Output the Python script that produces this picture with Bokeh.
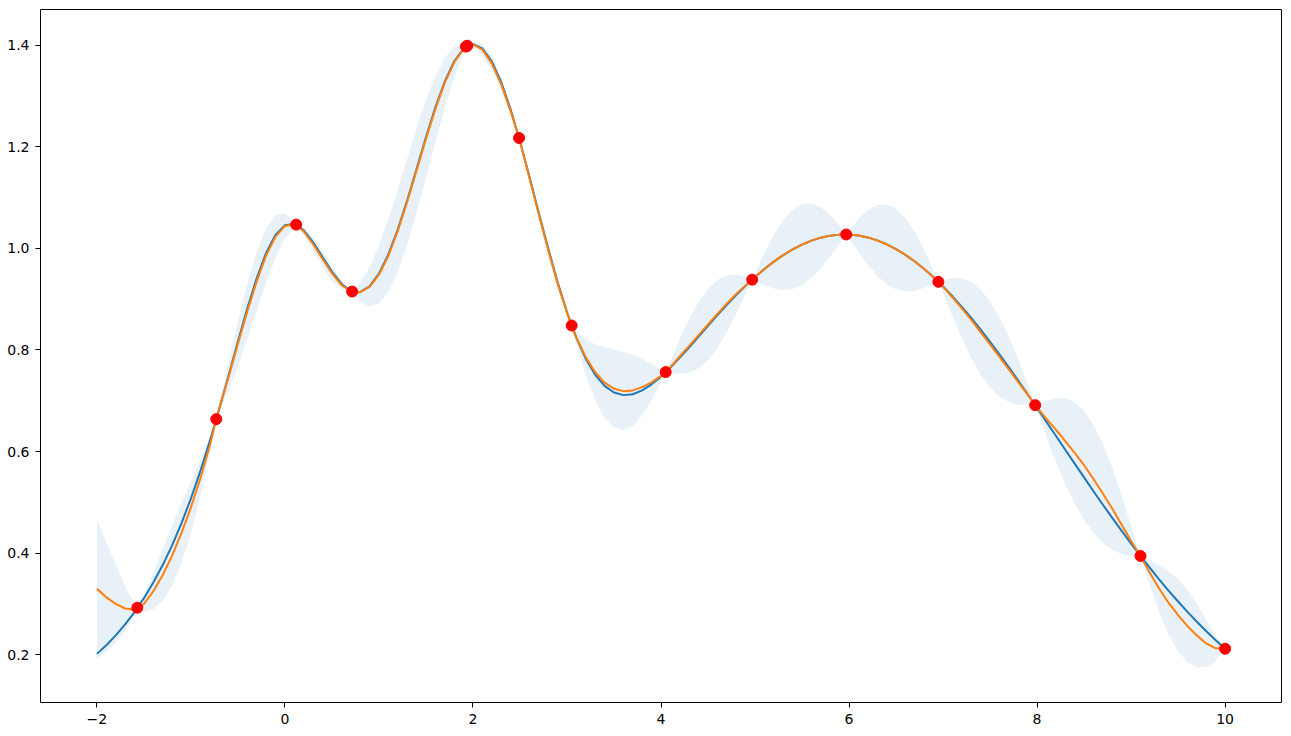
from bokeh.plotting import figure
from bokeh.models import Range1d, FixedTicker, CustomJSTickFormatter
from bokeh.embed import file_html
from bokeh.resources import INLINE

# sample positions (x) shared by the curves and the band
x_grid = [
    -2.0, -1.9, -1.8, -1.7, -1.6,
    -1.57,
    -1.5, -1.4, -1.3, -1.2, -1.1, -1.0, -0.9, -0.8,
    -0.73,
    -0.7, -0.6, -0.5, -0.4, -0.3, -0.2, -0.1, 0.0, 0.1,
    0.12,
    0.2, 0.3, 0.4, 0.5, 0.6, 0.7,
    0.715,
    0.8, 0.9, 1.0, 1.1, 1.2, 1.3, 1.4, 1.5, 1.6, 1.7, 1.8, 1.9,
    1.94,
    2.0, 2.1, 2.2, 2.3, 2.4,
    2.49,
    2.5, 2.6, 2.7, 2.8, 2.9, 3.0,
    3.05,
    3.1, 3.2, 3.3, 3.4, 3.5, 3.6, 3.7, 3.8, 3.9, 4.0,
    4.05,
    4.1, 4.2, 4.3, 4.4, 4.5, 4.6, 4.7, 4.8, 4.9,
    4.97,
    5.0, 5.1, 5.2, 5.3, 5.4, 5.5, 5.6, 5.7, 5.8, 5.9,
    5.97,
    6.0, 6.1, 6.2, 6.3, 6.4, 6.5, 6.6, 6.7, 6.8, 6.9,
    6.95,
    7.0, 7.1, 7.2, 7.3, 7.4, 7.5, 7.6, 7.7, 7.8, 7.9,
    7.98,
    8.0, 8.1, 8.2, 8.3, 8.4, 8.5, 8.6, 8.7, 8.8, 8.9, 9.0, 9.1, 9.2, 9.3, 9.4,
    9.5, 9.6, 9.7, 9.8, 9.9, 10.0,
]

# true objective (blue line)
true_y = [
    0.2017, 0.2188, 0.2381, 0.2598, 0.2840,
    0.2926,
    0.3113, 0.3420, 0.3765, 0.4154, 0.4591, 0.5075, 0.5613, 0.6200,
    0.6637,
    0.6830, 0.7493, 0.8165, 0.8819, 0.9413, 0.9908, 1.0265, 1.0456, 1.0481,
    1.0466,
    1.0353, 1.0118, 0.9828, 0.9540, 0.9303, 0.9158,
    0.9148,
    0.9136, 0.9250, 0.9500, 0.9881, 1.0370, 1.0941, 1.1560, 1.2185, 1.2773, 1.3283, 1.3678, 1.3930,
    1.3987,
    1.4019, 1.3933, 1.3680, 1.3273, 1.2736,
    1.2172,
    1.2105, 1.1413, 1.0697, 0.9996, 0.9336, 0.8745,
    0.8480,
    0.8237, 0.7825, 0.7509, 0.7291, 0.7162, 0.7110, 0.7128, 0.7203, 0.7322, 0.7474,
    0.7563,
    0.7653, 0.7848, 0.8053, 0.8264, 0.8475, 0.8683, 0.8885, 0.9079, 0.9262,
    0.9383,
    0.9434, 0.9592, 0.9737, 0.9866, 0.9978, 1.0073, 1.0150, 1.0209, 1.0249, 1.0269,
    1.0272,
    1.0270, 1.0252, 1.0214, 1.0156, 1.0079, 0.9984, 0.9870, 0.9740, 0.9592, 0.9428,
    0.9340,
    0.9248, 0.9055, 0.8848, 0.8629, 0.8399, 0.8160, 0.7911, 0.7656, 0.7395, 0.7128,
    0.6912,
    0.6857, 0.6584, 0.6310, 0.6034, 0.5761, 0.5490, 0.5219, 0.4953, 0.4693, 0.4438, 0.4188, 0.3944,
    0.3709, 0.3479, 0.3259, 0.3048, 0.2843, 0.2649, 0.2463, 0.2286, 0.2118,
]

# posterior mean (orange line)
mean_y = [
    0.330, 0.313, 0.300, 0.291, 0.2885,
    0.2926,
    0.300, 0.325, 0.357, 0.395, 0.440, 0.490, 0.547, 0.611,
    0.6637,
    0.684, 0.746, 0.812, 0.876, 0.935, 0.986, 1.023, 1.044, 1.047,
    1.0466,
    1.033, 1.008, 0.979, 0.951, 0.928, 0.9155,
    0.9148,
    0.9135, 0.924, 0.948, 0.985, 1.034, 1.091, 1.153, 1.215, 1.274, 1.326, 1.366, 1.3925,
    1.3987,
    1.4015, 1.391, 1.364, 1.323, 1.270,
    1.2172,
    1.2103, 1.139, 1.067, 0.997, 0.931, 0.8735,
    0.848,
    0.8245, 0.7855, 0.756, 0.7355, 0.7237, 0.7188, 0.7203, 0.7268, 0.7362, 0.7489,
    0.7563,
    0.766, 0.7875, 0.808, 0.829, 0.850, 0.871, 0.891, 0.910, 0.927,
    0.9383,
    0.9434, 0.9592, 0.9737, 0.9866, 0.9978, 1.0073, 1.0150, 1.0209, 1.0249, 1.0269,
    1.0272,
    1.0270, 1.0252, 1.0214, 1.0156, 1.0079, 0.9984, 0.9870, 0.9740, 0.9592, 0.9428,
    0.9340,
    0.9245, 0.9035, 0.8818, 0.8589, 0.8349, 0.811, 0.7861, 0.7616, 0.7365, 0.7118,
    0.6912,
    0.6867, 0.6644, 0.643, 0.6204, 0.5971, 0.573, 0.5459, 0.5173, 0.4873, 0.4558, 0.4238, 0.3944,
    0.3609, 0.3299, 0.3019, 0.2778, 0.2563, 0.2379, 0.2223, 0.2126, 0.2118,
]

# half-width of the uncertainty band around the mean
band_half = [
    0.137, 0.108, 0.077, 0.045, 0.012,
    0.0,
    0.0155, 0.0356, 0.0508, 0.059, 0.059, 0.0508, 0.0356, 0.0155,
    0.0,
    0.0064, 0.0268, 0.0436, 0.0545, 0.058, 0.0537, 0.0422, 0.025, 0.0043,
    0.0,
    0.0066, 0.013, 0.0159, 0.0145, 0.0091, 0.0013,
    0.0,
    0.0184, 0.0388, 0.0568, 0.071, 0.0805, 0.0848, 0.0836, 0.0768, 0.0651, 0.0491, 0.030, 0.0087,
    0.0,
    0.0047, 0.0111, 0.0139, 0.0124, 0.0069,
    0.0,
    0.0008, 0.0087, 0.0139, 0.0148, 0.0112, 0.0042,
    0.0,
    0.0122, 0.0354, 0.0552, 0.0695, 0.0771, 0.0771, 0.0695, 0.0552, 0.0354, 0.0122,
    0.0,
    0.0119, 0.0343, 0.0528, 0.0651, 0.070, 0.0667, 0.0557, 0.0384, 0.0166,
    0.0,
    0.0075, 0.0318, 0.0529, 0.0689, 0.0781, 0.0796, 0.0734, 0.060, 0.0407, 0.0175,
    0.0,
    0.0077, 0.0324, 0.0538, 0.0697, 0.0785, 0.0793, 0.072, 0.0574, 0.0372, 0.0128,
    0.0,
    0.0129, 0.0375, 0.0587, 0.0745, 0.0833, 0.0845, 0.0779, 0.0642, 0.0446, 0.0206,
    0.0,
    0.0061, 0.0357, 0.0625, 0.0844, 0.0998, 0.1073, 0.1065, 0.0972, 0.0806, 0.0575, 0.0299, 0.0,
    0.0246, 0.0463, 0.0624, 0.0709, 0.0709, 0.0624, 0.0463, 0.0246, 0.0,
]

# sampled observations (red dots)
obs_x = [-1.57, -0.73, 0.12, 0.715, 1.925, 1.94, 2.49, 3.05, 4.05, 4.97, 5.97, 6.95, 7.98, 9.10, 10.0]
obs_y = [0.2926, 0.6637, 1.0466, 0.9148, 1.397, 1.3987, 1.2172, 0.848, 0.7563, 0.9383, 1.0272, 0.934, 0.6912, 0.3944, 0.2118]

x_ticks = [-2, 0, 2, 4, 6, 8, 10]
y_ticks = [0.2, 0.4, 0.6, 0.8, 1.0, 1.2, 1.4]

n = len(x_grid)
assert len(true_y) == n and len(mean_y) == n and len(band_half) == n

band_lower = [m - h for m, h in zip(mean_y, band_half)]
band_upper = [m + h for m, h in zip(mean_y, band_half)]

p = figure(
    frame_width=1241, frame_height=693,
    x_range=Range1d(-2.6, 10.6), y_range=Range1d(0.106, 1.470),
    output_backend="svg", toolbar_location=None,
    min_border_left=40, min_border_right=2, min_border_top=9, min_border_bottom=10,
    background_fill_color="white", border_fill_color="white",
)
p.grid.visible = False
p.outline_line_color = "black"
p.outline_line_width = 1
p.outline_line_alpha = 1.0

for ax in p.axis:
    ax.axis_line_color = None
    ax.major_tick_line_color = "black"
    ax.major_tick_line_width = 1
    ax.major_tick_out = 5
    ax.major_tick_in = 0
    ax.minor_tick_line_color = None
    ax.major_label_text_font = "DejaVu Sans"
    ax.major_label_text_font_size = "14px"
    ax.major_label_text_color = "black"
    ax.major_label_standoff = 6

p.xaxis.ticker = FixedTicker(ticks=x_ticks)
p.yaxis.ticker = FixedTicker(ticks=y_ticks)
p.xaxis.formatter = CustomJSTickFormatter(
    code="return (tick < 0 ? '\u2212' : '') + Math.abs(tick).toFixed(0);")
p.yaxis.formatter = CustomJSTickFormatter(code="return tick.toFixed(1);")

p.varea(x=x_grid, y1=band_lower, y2=band_upper, fill_color="#1f77b4", fill_alpha=0.1)
p.line(x_grid, true_y, line_color="#1f77b4", line_width=2, line_join="round")
p.line(x_grid, mean_y, line_color="#ff7f0e", line_width=2, line_join="round")
p.scatter(obs_x, obs_y, marker="circle", size=11, fill_color="red", line_color="red")

open("out.html", "w").write(file_html(p, INLINE))
